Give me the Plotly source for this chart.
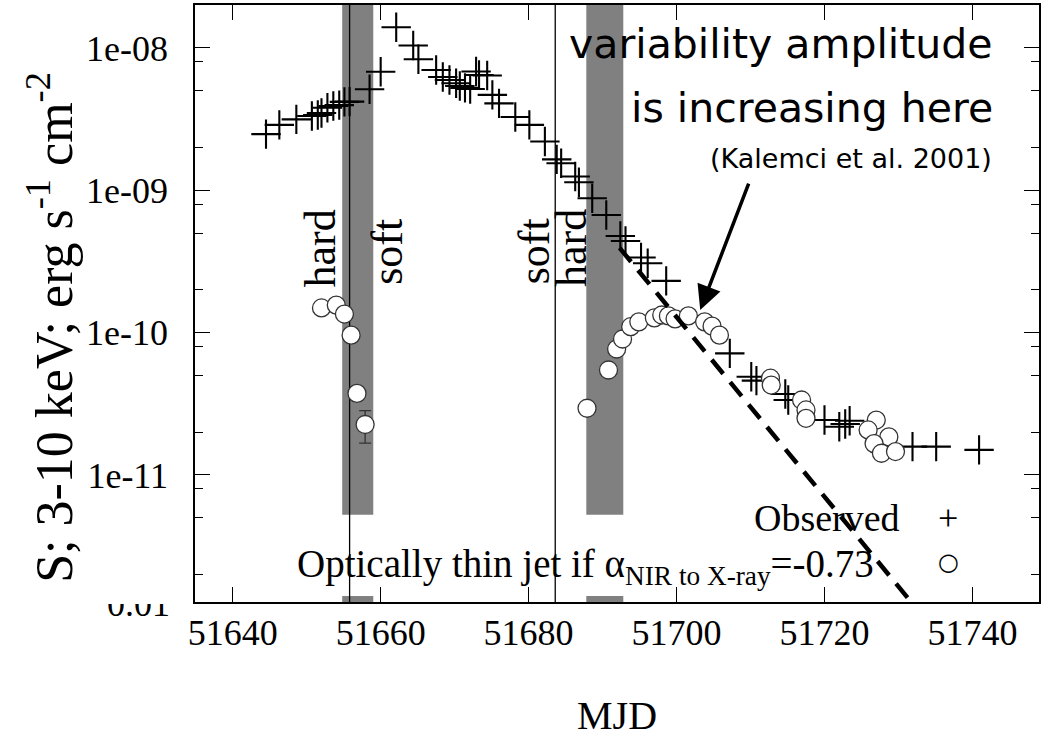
import numpy as np
import plotly.graph_objects as go

# ---------------- data ----------------
obs_mjd = [51644.5, 51646.3, 51648.6, 51650.7, 51651.5, 51652.0, 51652.8, 51653.6, 51654.4, 51655.1, 51655.8,
           51658.5, 51660.0, 51662.1, 51664.4, 51665.1, 51667.5, 51668.4, 51669.3, 51670.2, 51670.7, 51671.4, 51672.1,
           51672.9, 51673.3, 51674.4, 51675.1, 51676.0, 51678.2, 51680.1, 51682.2, 51683.8, 51684.4, 51686.3, 51686.8,
           51688.6, 51690.5, 51692.4, 51693.1, 51695.2, 51696.1, 51698.6, 51707.2, 51710.1, 51710.8, 51714.7, 51715.1,
           51720.0, 51722.0, 51722.8, 51723.4, 51731.9, 51735.1, 51740.9]
obs_flux = [2.48e-9, 2.88e-9, 3.15e-9, 3.33e-9, 3.38e-9, 3.49e-9, 3.80e-9, 3.91e-9, 3.97e-9, 4.18e-9, 4.20e-9,
            5.13e-9, 6.81e-9, 1.40e-8, 1.04e-8, 8.33e-9, 7.00e-9, 6.26e-9, 5.95e-9, 5.65e-9, 5.41e-9, 5.24e-9, 5.15e-9,
            6.84e-9, 6.46e-9, 6.41e-9, 4.68e-9, 4.08e-9, 3.27e-9, 2.88e-9, 2.20e-9, 1.65e-9, 1.55e-9, 1.25e-9, 1.14e-9,
            8.79e-10, 6.70e-10, 4.77e-10, 4.40e-10, 3.37e-10, 3.07e-10, 2.31e-10, 7.14e-11, 4.89e-11, 4.60e-11, 3.70e-11, 3.36e-11,
            2.43e-11, 2.18e-11, 2.28e-11, 2.40e-11, 1.58e-11, 1.58e-11, 1.50e-11]

jet_mjd = [51652.0, 51654.0, 51655.1, 51656.0, 51656.8, 51657.9,
           51687.9, 51690.8, 51691.9, 51692.7, 51693.8, 51694.9, 51697.0, 51698.0, 51698.9, 51699.8,
           51701.6, 51703.8, 51704.8, 51705.8, 51712.7, 51712.8, 51716.9, 51717.5, 51717.5,
           51727.0, 51725.9, 51728.7, 51726.7, 51727.7, 51729.6]
jet_flux = [1.49e-10, 1.56e-10, 1.35e-10, 9.6e-11, 3.74e-11, 2.26e-11,
            2.94e-11, 5.46e-11, 7.67e-11, 9.02e-11, 1.10e-10, 1.19e-10, 1.27e-10, 1.33e-10, 1.31e-10, 1.25e-10,
            1.31e-10, 1.19e-10, 1.11e-10, 9.6e-11, 4.78e-11, 4.28e-11, 3.36e-11, 2.86e-11, 2.50e-11,
            2.43e-11, 2.07e-11, 1.85e-11, 1.66e-11, 1.42e-11, 1.46e-11]
jet_err_plus = [0, 0, 0, 0, 0, 0.57e-11] + [0] * 25
jet_err_minus = [0, 0, 0, 0, 0, 0.59e-11] + [0] * 25

# optically thin extrapolation (dashed)
thin_mjd = [51692.3, 51732.6]
thin_flux = [3.94e-10, 1.125e-12]

# state transitions
band_ranges = [(51654.8, 51659.0), (51687.8, 51692.8)]
transition_mjd = [51655.8, 51683.6]
state_labels = ["hard", "soft", "soft", "hard"]
state_label_mjd = [51651.8, 51661.0, 51680.8, 51685.8]
state_label_flux = [3.9e-10, 3.7e-10, 3.7e-10, 3.9e-10]

arrow_mjd, arrow_flux = 51703.2, 1.44e-10

x_ticks = [51640, 51660, 51680, 51700, 51720, 51740]
x_ticktext = ["51640", "51660", "51680", "51700", "51720", "51740"]
y_ticks = [1e-8, 1e-9, 1e-10, 1e-11]
y_ticktext = ["1e-08", "1e-09", "1e-10", "1e-11"]
y_minor = [m * 10.0 ** e for e in (-12, -11, -10, -9) for m in (2, 5, 8)]

x_range = [51634.9, 51749.0]
y_range_log = [-11.893, -7.698]

SERIF = "Liberation Serif"
SANS = "DejaVu Sans"

fig = go.Figure()

fig.add_trace(go.Scatter(
    x=obs_mjd, y=obs_flux, mode="markers", name="Observed",
    marker=dict(symbol="cross-thin", size=21, line=dict(width=2.1, color="black"), color="black"),
    showlegend=False))

fig.add_trace(go.Scatter(
    x=jet_mjd, y=jet_flux, mode="markers", name="Optically thin jet",
    marker=dict(symbol="circle", size=18, color="white", line=dict(width=1.3, color="#333")),
    error_y=dict(type="data", array=jet_err_plus, arrayminus=jet_err_minus, symmetric=False,
                 color="#333", thickness=1.3, width=6),
    showlegend=False))

fig.add_trace(go.Scatter(
    x=thin_mjd, y=thin_flux, mode="lines",
    line=dict(color="black", width=4.5, dash="18px,11px"), showlegend=False))

shapes = []
legend_gap_bottom, legend_gap_top = 0.01, 0.146
for x0, x1 in band_ranges:
    for y0, y1 in ((legend_gap_top, 1.0), (0.0, legend_gap_bottom)):
        shapes.append(dict(type="rect", xref="x", yref="paper", x0=x0, x1=x1, y0=y0, y1=y1,
                           fillcolor="rgb(128,128,128)", line=dict(width=0), layer="below"))
for xm in transition_mjd:
    shapes.append(dict(type="line", xref="x", yref="paper", x0=xm, x1=xm, y0=0, y1=1,
                       line=dict(color="black", width=1.3), layer="below"))

annotations = []
for lab, xm, fl in zip(state_labels, state_label_mjd, state_label_flux):
    annotations.append(dict(x=xm, y=np.log10(fl), xref="x", yref="y", text=lab, showarrow=False,
                            textangle=-90, font=dict(family=SERIF, size=44, color="black"),
                            xanchor="center", yanchor="middle"))

# big explanatory text
annotations += [
    dict(x=0.948, y=0.9347, xref="paper", yref="paper", text="variability amplitude", showarrow=False,
         xanchor="right", yanchor="middle", font=dict(family=SANS, size=41, color="black")),
    dict(x=0.948, y=0.8275, xref="paper", yref="paper", text="is increasing here", showarrow=False,
         xanchor="right", yanchor="middle", font=dict(family=SANS, size=41, color="black")),
    dict(x=0.9468, y=0.7437, xref="paper", yref="paper", text="(Kalemci et al. 2001)", showarrow=False,
         xanchor="right", yanchor="middle", font=dict(family=SANS, size=27, color="black")),
    dict(x=arrow_mjd, y=np.log10(arrow_flux), xref="x", yref="y", text="", showarrow=True,
         ax=49, ay=-128, arrowhead=2, arrowsize=1.4, arrowwidth=3.5, arrowcolor="black"),
]

# key
annotations += [
    dict(x=0.8381, y=0.1407, xref="paper", yref="paper", text="Observed", showarrow=False,
         xanchor="right", yanchor="middle", font=dict(family=SERIF, size=38, color="black")),
    dict(x=0.8924, y=0.1407, xref="paper", yref="paper", text="+", showarrow=False,
         xanchor="center", yanchor="middle", font=dict(family=SERIF, size=36, color="black")),
    dict(x=0.8073, y=0.060, xref="paper", yref="paper",
         text="Optically thin jet if α<sub>NIR to X-ray</sub>=-0.73", showarrow=False,
         xanchor="right", yanchor="middle", font=dict(family=SERIF, size=39, color="black")),
    dict(x=0.8924, y=0.067, xref="paper", yref="paper", text="○", showarrow=False,
         xanchor="center", yanchor="middle", font=dict(family=SANS, size=24, color="black")),
]

# axis titles
annotations += [
    dict(x=0.5, y=-0.1893, xref="paper", yref="paper", text="MJD", showarrow=False,
         xanchor="center", yanchor="middle", font=dict(family=SERIF, size=40, color="black")),
    dict(x=-0.172, y=0.4606, xref="paper", yref="paper",
         text="S; 3-10 keV; erg s<sup>-1</sup> cm<sup>-2</sup>", showarrow=False, textangle=-90,
         xanchor="center", yanchor="middle", font=dict(family=SERIF, size=52, color="black")),
    # partially hidden bottom label
    dict(x=-0.0272, y=0.0, xref="paper", yref="paper", text="0.01", showarrow=False,
         xanchor="right", yanchor="top", height=20, valign="bottom",
         font=dict(family=SERIF, size=36, color="black")),
]

axis_common = dict(showline=True, linecolor="black", linewidth=1.5, mirror="allticks",
                   ticks="inside", ticklen=15, tickwidth=1.3, tickcolor="black",
                   showgrid=False, zeroline=False,
                   tickfont=dict(family=SERIF, size=36, color="black"))

fig.update_layout(
    width=1042, height=739,
    margin=dict(l=195, r=1, t=5, b=137),
    paper_bgcolor="white", plot_bgcolor="white",
    shapes=shapes, annotations=annotations,
    xaxis=dict(range=x_range, tickvals=x_ticks, ticktext=x_ticktext, ticklabelstandoff=-2, **axis_common),
    yaxis=dict(type="log", range=y_range_log, tickvals=y_ticks, ticktext=y_ticktext,
               ticklabelstandoff=18,
               minor=dict(tickvals=y_minor, ticks="inside", ticklen=8, tickwidth=1.2, tickcolor="black"),
               **axis_common),
    showlegend=False,
)

fig.write_html("out.html", config={"displayModeBar": False},
               post_script="document.body.style.margin='0';document.body.style.overflow='hidden';")
